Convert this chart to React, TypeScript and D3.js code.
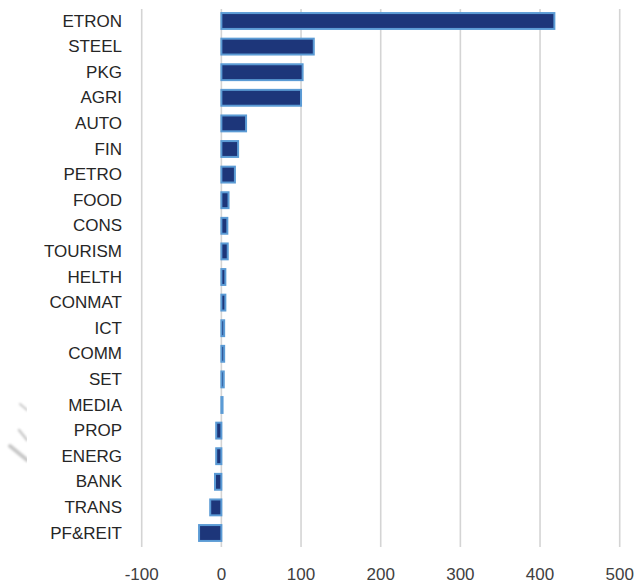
import React from "react";
import * as d3 from "d3";

const categories = [
  "ETRON", "STEEL", "PKG", "AGRI", "AUTO", "FIN", "PETRO", "FOOD", "CONS",
  "TOURISM", "HELTH", "CONMAT", "ICT", "COMM", "SET", "MEDIA", "PROP",
  "ENERG", "BANK", "TRANS", "PF&REIT",
];
const values = [
  418, 116, 102, 100, 31, 21, 17, 9, 7.5, 8, 5, 5, 3.5, 3.5, 3, 1.5, -6.5,
  -6.5, -8, -14, -28,
];
const xTicks = [-100, 0, 100, 200, 300, 400, 500];

const W = 637;
const H = 585;

export default function App() {
  const x = d3.scaleLinear().domain([-100, 500]).range([141.7, 619.7]);
  const y = d3
    .scaleBand<string>()
    .domain(categories)
    .range([8.2, 545.8])
    .paddingInner(0.38)
    .paddingOuter(0.19);
  const bw = y.bandwidth();

  return (
    <svg
      width={W}
      height={H}
      style={{ position: "absolute", left: 0, top: 0, background: "#fff" }}
      fontFamily="'Liberation Sans', Arial, sans-serif"
    >
      <defs>
        <filter id="soft" x="-50%" y="-50%" width="200%" height="200%">
          <feGaussianBlur stdDeviation="1.2" />
        </filter>
        <clipPath id="edge">
          <rect x={0} y={380} width={27} height={100} />
        </clipPath>
      </defs>

      {/* faint marks at the left edge */}
      <g clipPath="url(#edge)" filter="url(#soft)" stroke="#c8c8c8" strokeLinecap="round">
        <line x1={20} y1={404} x2={27} y2={410} strokeWidth={2} />
        <line x1={19} y1={430} x2={27} y2={440} strokeWidth={2.5} />
        <line x1={10} y1={446} x2={27} y2={460} strokeWidth={4} />
      </g>

      {/* vertical gridlines */}
      <g>
        {xTicks.map((t) => (
          <line
            key={t}
            x1={x(t)}
            x2={x(t)}
            y1={9}
            y2={547}
            stroke="#d4d4d4"
            strokeWidth={1.6}
          />
        ))}
      </g>

      {/* bars */}
      <g>
        {categories.map((c, i) => {
          const v = values[i];
          const x0 = x(Math.min(0, v));
          const x1 = x(Math.max(0, v));
          return (
            <rect
              key={c}
              x={x0}
              y={y(c)!}
              width={Math.max(0.5, x1 - x0)}
              height={bw}
              fill="#1d367a"
              stroke="#5b9bd5"
              strokeWidth={2}
            />
          );
        })}
      </g>

      {/* category labels */}
      <g fontSize={17} fill="#262626" textAnchor="end">
        {categories.map((c) => (
          <text key={c} x={122} y={y(c)! + bw / 2} dominantBaseline="central">
            {c}
          </text>
        ))}
      </g>

      {/* x-axis tick labels */}
      <g fontSize={17} fill="#404040" textAnchor="middle">
        {xTicks.map((t) => (
          <text key={t} x={x(t)} y={574} dominantBaseline="central">
            {t}
          </text>
        ))}
      </g>
    </svg>
  );
}
